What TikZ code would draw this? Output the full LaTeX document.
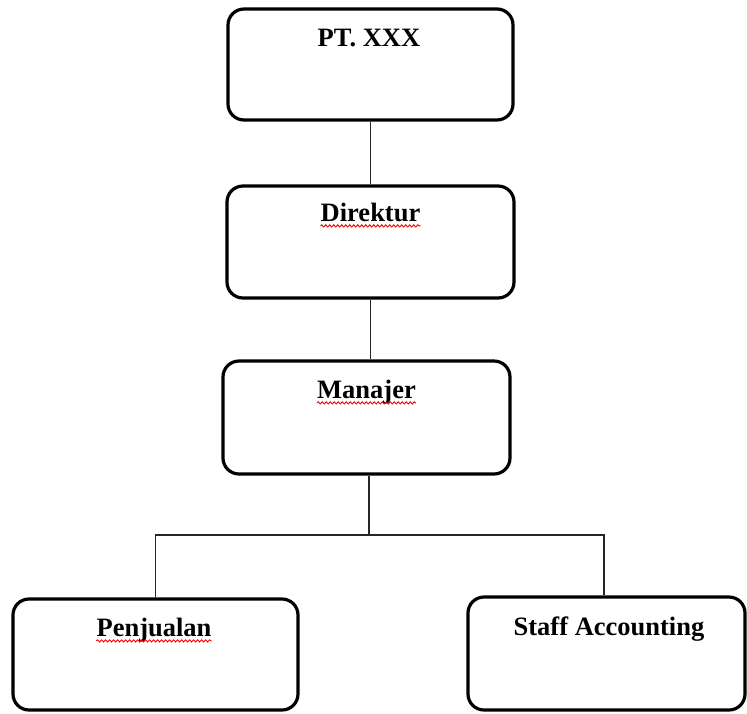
\documentclass[tikz,border=0pt]{standalone}
\usepackage{fontspec}
\setmainfont{Liberation Serif}
\usetikzlibrary{decorations.pathmorphing}
\begin{document}
\begin{tikzpicture}[x=1pt,y=1pt,
  box/.style={draw=black, line width=3.2pt, rounded corners=16pt, fill=white, inner sep=0pt},
  lbl/.style={anchor=base, inner sep=0pt, font=\fontsize{26.5}{31}\selectfont\bfseries},
  conn/.style={draw=black!85, line width=1.5pt},
  squig/.style={draw=red, line width=0.9pt, decorate, decoration={snake, amplitude=1.1pt, segment length=4pt}}]
\useasboundingbox (0,0) rectangle (747,-713);
% boxes
\node[box, minimum width=285pt, minimum height=111pt] (pt) at (370.5,-64.5) {};
\node[box, minimum width=287pt, minimum height=112pt] (dir) at (370.5,-242) {};
\node[box, minimum width=287pt, minimum height=113pt] (man) at (366.5,-417.5) {};
\node[box, minimum width=285pt, minimum height=111pt] (pen) at (155.5,-654.5) {};
\node[box, minimum width=277pt, minimum height=113pt] (staff) at (606.5,-653.5) {};
% labels
\node[lbl] (ptt) at ([yshift=-39pt]pt.north -| 369,0) {PT. XXX};
\node[lbl] (dirt) at ([yshift=-37pt]dir.north) {Direktur};
\node[lbl] (mant) at ([yshift=-39pt]man.north) {Manajer};
\node[lbl] (pent) at ([yshift=-39pt]pen.north -| 154,0) {Penjualan};
\node[lbl] (stafft) at ([yshift=-40pt]staff.north -| 609,0) {Staff Accounting};
% spell-check squiggles
\draw[squig] ([yshift=-4.5pt]dirt.base west) -- ([yshift=-4.5pt]dirt.base east);
\draw[squig] ([yshift=-4.5pt]mant.base west) -- ([yshift=-4.5pt]mant.base east);
\draw[squig] ([yshift=-4.5pt]pent.base west) -- ([yshift=-4.5pt]pent.base east);
% connectors
\coordinate (j) at (369,-535);
\draw[conn] (pt.south) -- (dir.north);
\draw[conn] (dir.south) -- (dir.south |- man.north);
\draw[conn] (man.south -| j) -- (j);
\draw[conn] (j) -| (pen.north);
\draw[conn] (j) -| ([xshift=-2.5pt]staff.north);
\end{tikzpicture}
\end{document}
